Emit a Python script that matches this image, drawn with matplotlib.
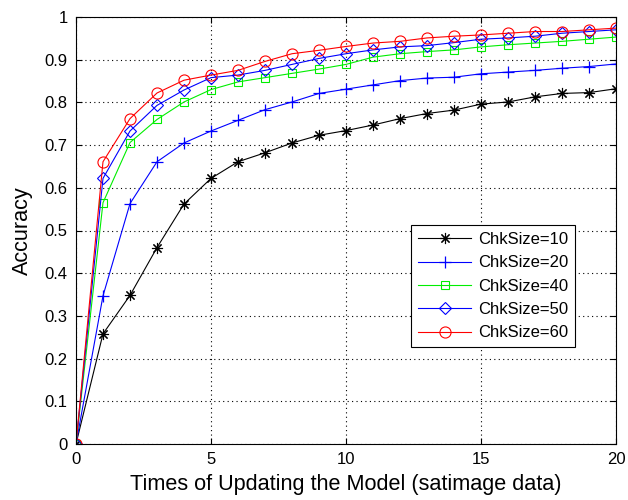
import matplotlib
matplotlib.use('Agg')
import matplotlib.pyplot as plt
from matplotlib.ticker import FuncFormatter

plt.rcParams['font.family'] = ['Liberation Sans', 'DejaVu Sans']

# number of model updates
updates = list(range(21))

acc_10 = [0, 0.258, 0.348, 0.460, 0.562, 0.622, 0.661, 0.682, 0.705, 0.723, 0.734,
          0.747, 0.762, 0.774, 0.782, 0.796, 0.801, 0.813, 0.821, 0.823, 0.832]
acc_20 = [0, 0.347, 0.563, 0.661, 0.705, 0.733, 0.758, 0.783, 0.801, 0.821, 0.831,
          0.841, 0.851, 0.857, 0.859, 0.867, 0.871, 0.875, 0.880, 0.884, 0.890]
acc_40 = [0, 0.565, 0.706, 0.760, 0.801, 0.830, 0.848, 0.858, 0.868, 0.878, 0.889,
          0.906, 0.914, 0.919, 0.923, 0.930, 0.935, 0.939, 0.943, 0.948, 0.953]
acc_50 = [0, 0.622, 0.733, 0.793, 0.829, 0.858, 0.864, 0.875, 0.889, 0.903, 0.914,
          0.923, 0.930, 0.933, 0.940, 0.948, 0.951, 0.955, 0.962, 0.966, 0.970]
acc_60 = [0, 0.661, 0.762, 0.822, 0.852, 0.864, 0.875, 0.896, 0.914, 0.922, 0.931,
          0.939, 0.943, 0.951, 0.955, 0.958, 0.962, 0.966, 0.966, 0.970, 0.974]

labels = ['ChkSize=10', 'ChkSize=20', 'ChkSize=40', 'ChkSize=50', 'ChkSize=60']

fig = plt.figure(figsize=(6.28, 5.0), dpi=100)
ax = fig.add_axes([0.121, 0.112, 0.860, 0.854])

lw = 0.8
# (8, 2, 0) -> eight-spoke asterisk like matlab's '*'
ax.plot(updates, acc_10, color='k', marker=(8, 2, 0), ms=8, mew=0.8, lw=lw, label=labels[0])
ax.plot(updates, acc_20, color='#0000ff', marker='+', ms=9, mew=0.9, lw=lw, label=labels[1])
ax.plot(updates, acc_40, color='#00ee00', marker='s', ms=6, mfc='none', mew=0.8, lw=lw, label=labels[2])
ax.plot(updates, acc_50, color='#0000ff', marker='D', ms=6, mfc='none', mew=0.8, lw=lw, label=labels[3])
ax.plot(updates, acc_60, color='#ff0000', marker='o', ms=8, mfc='none', mew=0.8, lw=lw, label=labels[4])

ax.set_xlim(0, 20)
ax.set_ylim(0, 1)
ax.set_xticks([0, 5, 10, 15, 20])
ax.set_yticks([i / 10 for i in range(11)])
ax.yaxis.set_major_formatter(FuncFormatter(lambda v, p: '%g' % round(v, 1)))
ax.tick_params(direction='in', top=True, right=True, labelsize=12, length=4)
ax.tick_params(axis='x', pad=6)
ax.tick_params(axis='y', pad=6)
ax.grid(True, linestyle=(0, (1, 3)), color='k', lw=0.8)
for s in ax.spines.values():
    s.set_linewidth(0.8)

ax.set_xlabel('Times of Updating the Model (satimage data)', fontsize=15.6, labelpad=5)
ax.set_ylabel('Accuracy', fontsize=15.6, labelpad=8)

leg = ax.legend(loc='lower right', bbox_to_anchor=(0.924, 0.227), borderaxespad=0,
                fontsize=12, fancybox=False, framealpha=1, edgecolor='k',
                handlelength=3.2, borderpad=0.4, labelspacing=0.5, handletextpad=0.4)
leg.get_frame().set_linewidth(0.8)

fig.savefig('out.png', dpi=100)
